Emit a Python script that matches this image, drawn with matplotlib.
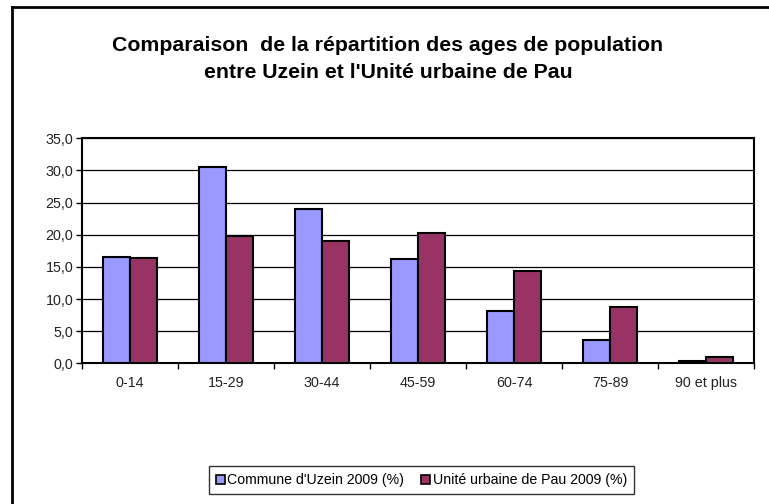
import matplotlib
matplotlib.use('Agg')
import matplotlib.pyplot as plt
import numpy as np
from matplotlib.lines import Line2D

plt.rcParams['font.family'] = ['Liberation Sans', 'DejaVu Sans']

categories = ['0-14', '15-29', '30-44', '45-59', '60-74', '75-89', '90 et plus']
uzein = [16.6, 30.5, 24.0, 16.2, 8.2, 3.6, 0.3]
pau = [16.4, 19.8, 19.0, 20.2, 14.4, 8.8, 0.9]
labels = ["Commune d'Uzein 2009 (%)", "Unité urbaine de Pau 2009 (%)"]
yticks = [0, 5, 10, 15, 20, 25, 30, 35]

fig = plt.figure(figsize=(7.69, 5.04), dpi=100)
ax = fig.add_axes([0.1062, 0.2792, 0.8748, 0.4464])

x = np.arange(len(categories))
w = 0.28
ax.bar(x - w / 2, uzein, w, color='#9999FF', edgecolor='black', linewidth=1.5, label=labels[0], zorder=3)
ax.bar(x + w / 2, pau, w, color='#993366', edgecolor='black', linewidth=1.5, label=labels[1], zorder=3)

ax.set_xlim(-0.5, len(categories) - 0.5)
ax.set_ylim(0, 35)
ax.set_yticks(yticks)
ax.set_yticklabels([('%.1f' % v).replace('.', ',') for v in yticks])
ax.yaxis.grid(True, color='black', linewidth=0.9, zorder=0)

# category labels centered, ticks at boundaries
ax.set_xticks(x)
ax.set_xticklabels(categories)
ax.tick_params(axis='x', length=0, pad=9, labelsize=10.3, labelcolor='#222222')
ax.set_xticks(np.arange(len(categories) + 1) - 0.5, minor=True)
ax.tick_params(axis='x', which='minor', length=4, width=1, direction='out')
ax.tick_params(axis='y', length=4, width=1, labelsize=10.3, pad=2, labelcolor='#222222')
for s in ax.spines.values():
    s.set_linewidth(1.5)

fig.text(0.5046, 0.910, "Comparaison  de la répartition des ages de population",
         ha='center', va='center', fontsize=15.3, fontweight='bold')
fig.text(0.5046, 0.856, "entre Uzein et l'Unité urbaine de Pau",
         ha='center', va='center', fontsize=15.3, fontweight='bold')

leg = fig.legend(loc='center', bbox_to_anchor=(0.548, 0.0476), ncol=2, fontsize=10.2,
                 handlelength=0.6, handleheight=0.6, handletextpad=0.2, columnspacing=1.2,
                 frameon=True, fancybox=False, edgecolor='black', borderpad=0.5)
leg.get_frame().set_linewidth(1.0)
for h in leg.legend_handles:
    h.set_linewidth(1.2)

# outer chart border (only left and top visible)
fig.add_artist(Line2D([0.0150, 0.0150], [0.0, 0.986], transform=fig.transFigure, color='black', linewidth=2))
fig.add_artist(Line2D([0.0150, 1.0], [0.986, 0.986], transform=fig.transFigure, color='black', linewidth=2))

fig.savefig('out.png', dpi=100)
